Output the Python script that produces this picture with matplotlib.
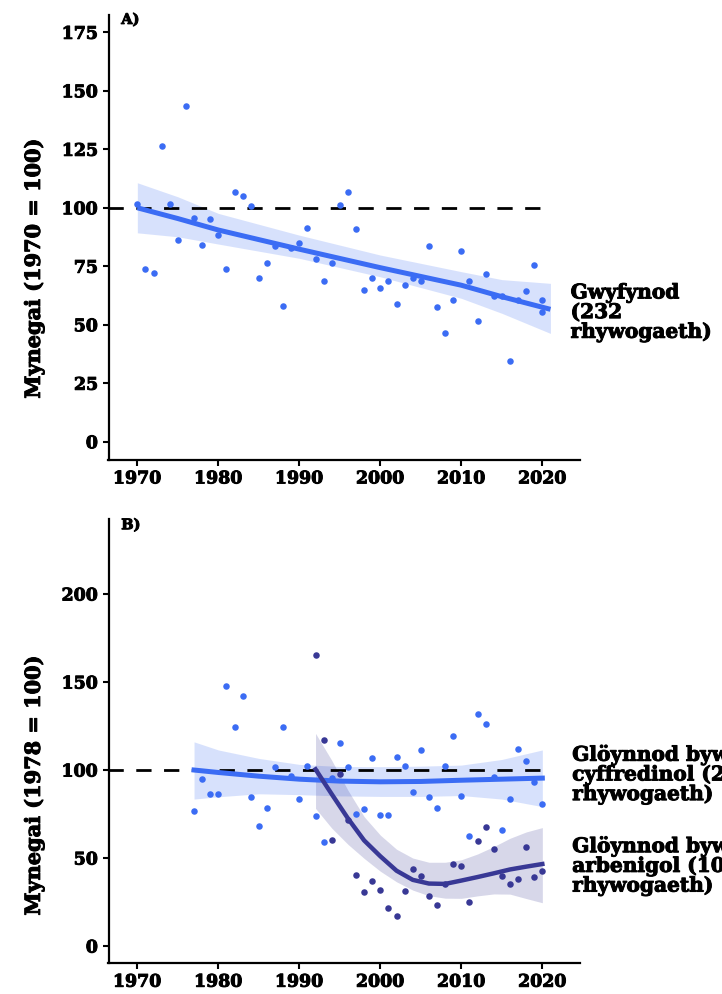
import matplotlib
matplotlib.use("Agg")
import matplotlib.pyplot as plt
import matplotlib.patheffects as pe
import numpy as np

# ---------------- data ----------------
# Panel A: moths (index 1970 = 100)
a_years = list(range(1970, 2021)) + [2020]
a_vals = [101.7, 73.7, 72.1, 126.4, 101.7, 86.3, 143.5, 95.5, 84.2, 95.2,
          88.5, 73.9, 106.6, 104.9, 100.7, 70.1, 76.4, 83.8, 57.9, 82.8,
          85.0, 91.2, 77.9, 68.7, 76.5, 101.0, 106.8, 90.8, 64.8, 70.1,
          65.8, 68.8, 58.7, 67.0, 69.8, 68.7, 83.8, 57.4, 46.5, 60.8,
          81.4, 68.7, 51.6, 71.7, 62.3, 62.3, 34.6, 60.6, 64.5, 75.4,
          60.4, 55.4]
a_fit_years = [1970, 1975, 1980, 1990, 2000, 2010, 2015, 2021]
a_fit = [100, 95.4, 90.5, 82.3, 74.4, 66.9, 62.0, 56.6]
a_fit_hi = [110.7, 104.7, 97.6, 88.3, 79.8, 72.7, 69.3, 67.7]
a_fit_lo = [89.3, 87.6, 84.5, 78.4, 70.5, 61.3, 54.9, 46.3]

# Panel B: butterflies (index 1978 = 100)
b_common_years = list(range(1977, 2021))
b_common_vals = [76.7, 94.7, 86.4, 86.4, 147.7, 124.4, 142.2, 84.8, 68.4, 78.2,
                 101.5, 124.4, 96.8, 83.5, 102.3, 73.9, 59.1, 95.3, 115.3, 101.9,
                 75.0, 78.0, 107.0, 74.6, 74.6, 107.6, 102.3, 87.5, 111.5, 84.8,
                 78.4, 102.3, 119.1, 85.0, 62.5, 132.0, 126.0, 96.0, 66.1, 83.5,
                 111.8, 104.9, 93.0, 80.9]
b_spec_years = list(range(1992, 2021))
b_spec_vals = [165.5, 117.2, 60.2, 97.5, 71.6, 40.5, 30.9, 36.7, 31.8, 21.4,
               16.9, 31.1, 43.6, 39.6, 28.2, 23.3, 35.2, 46.6, 45.5, 25.2,
               59.5, 67.4, 55.1, 39.8, 35.2, 38.3, 56.4, 39.0, 42.8]

b_common_fit_years = [1977, 1980, 1985, 1990, 1995, 2000, 2005, 2010, 2015, 2020]
b_common_fit = [100, 98.6, 96.5, 94.8, 93.7, 93.3, 93.5, 94.2, 94.8, 95.4]
b_common_hi = [116, 111.4, 106.6, 103.2, 102, 101.9, 102.2, 102.8, 106, 111.4]
b_common_lo = [83.5, 84.8, 86.5, 86, 85.3, 85, 85, 85.5, 83.5, 79.2]

b_spec_fit_years = [1992, 1994, 1996, 1998, 2000, 2002, 2004, 2006, 2008, 2010,
                    2012, 2014, 2016, 2018, 2020]
b_spec_fit = [100.4, 86.3, 72.5, 60.0, 51.0, 42.8, 37.6, 35.5, 35.3, 37.2,
              39.2, 41.3, 43.5, 45.1, 46.6]
b_spec_hi = [120.8, 105.5, 88.5, 73.5, 63.0, 55.0, 50.0, 47.6, 47.6, 49.0,
             52.3, 56.5, 61.2, 64.8, 67.3]
b_spec_lo = [78.2, 67.0, 57.8, 49.8, 42.5, 36.5, 31.8, 28.6, 27.2, 27.1,
             28.5, 29.6, 29.5, 27.0, 24.6]

x_ticks = [1970, 1980, 1990, 2000, 2010, 2020]
a_yticks = [0, 25, 50, 75, 100, 125, 150, 175]
b_yticks = [0, 50, 100, 150, 200]

label_a = "Gwyfynod\n(232\nrhywogaeth)"
label_common = "Glöynnod byw\ncyffredinol (26\nrhywogaeth)"
label_spec = "Glöynnod byw\narbenigol (10\nrhywogaeth)"

# ---------------- style ----------------
LIGHT = "#3b6cf4"
DARK = "#383895"
FONT = "DejaVu Serif"
plt.rcParams["font.family"] = [FONT, "DejaVu Sans"]
plt.rcParams["font.weight"] = "bold"
THICK = [pe.withStroke(linewidth=0.7, foreground="black")]

W, H = 722, 994
fig = plt.figure(figsize=(W / 100, H / 100), dpi=100)

def px_axes(left, right, top, bottom):
    return fig.add_axes([left / W, 1 - bottom / H, (right - left) / W, (bottom - top) / H])

axA = px_axes(108.5, 580, 15, 460)
axB = px_axes(108.5, 580, 519, 963.3)

def style(ax, ylim, yticks):
    ax.set_xlim(1966.44, 2024.65)
    ax.set_ylim(*ylim)
    for s in ["top", "right"]:
        ax.spines[s].set_visible(False)
    for s in ["left", "bottom"]:
        ax.spines[s].set_linewidth(1.6)
        ax.spines[s].set_color("black")
    ax.set_xticks(x_ticks)
    ax.set_yticks(yticks)
    ax.tick_params(axis="both", length=4.5, width=1.5, color="black",
                   labelsize=12.5, pad=3)
    for lab in ax.get_xticklabels() + ax.get_yticklabels():
        lab.set_fontweight("bold")
        lab.set_color("black")
        lab.set_path_effects(THICK)
    ax.set_facecolor("none")

LABEL_KW = dict(textcoords="offset points", va="center", ha="left",
                fontsize=14.5, fontweight="bold", linespacing=0.98,
                annotation_clip=False, path_effects=THICK)

# ---- Panel A ----
style(axA, (-7.8, 182.4), a_yticks)
axA.fill_between(a_fit_years, a_fit_lo, a_fit_hi, color=LIGHT, alpha=0.2, lw=0, zorder=1)
axA.plot([1966.44, 2021.2], [100, 100], color="black", lw=2.0, dashes=(5.5, 4.5), zorder=2)
axA.plot(a_fit_years, a_fit, color=LIGHT, lw=3.6, solid_capstyle="butt", zorder=3)
axA.scatter(a_years, a_vals, s=22, color=LIGHT, lw=0, zorder=4)
axA.set_ylabel("Mynegai (1970 = 100)", fontsize=15, fontweight="bold",
               path_effects=THICK)
axA.yaxis.set_label_coords(-0.137, 0.431)
axA.text(0.027, 0.989, "A)", transform=axA.transAxes, fontsize=10.5,
         fontweight="bold", va="center", ha="left", path_effects=THICK)
axA.annotate(label_a, xy=(a_fit_years[-1], a_fit[-1]), xytext=(14.5, -2), **LABEL_KW)

# ---- Panel B ----
style(axB, (-9.8, 242.6), b_yticks)
axB.fill_between(b_common_fit_years, b_common_lo, b_common_hi, color=LIGHT,
                 alpha=0.2, lw=0, zorder=1)
axB.fill_between(b_spec_fit_years, b_spec_lo, b_spec_hi, color=DARK,
                 alpha=0.2, lw=0, zorder=1)
axB.plot([1966.44, 2021.2], [100, 100], color="black", lw=2.0, dashes=(5.5, 4.5), zorder=2)
axB.plot(b_common_fit_years, b_common_fit, color=LIGHT, lw=3.6, zorder=3)
axB.plot(b_spec_fit_years, b_spec_fit, color=DARK, lw=3.2, zorder=3)
axB.scatter(b_common_years, b_common_vals, s=22, color=LIGHT, lw=0, zorder=4)
axB.scatter(b_spec_years, b_spec_vals, s=22, color=DARK, lw=0, zorder=4)
axB.set_ylabel("Mynegai (1978 = 100)", fontsize=15, fontweight="bold",
               path_effects=THICK)
axB.yaxis.set_label_coords(-0.137, 0.401)
axB.text(0.027, 0.986, "B)", transform=axB.transAxes, fontsize=10.5,
         fontweight="bold", va="center", ha="left", path_effects=THICK)
axB.annotate(label_common, xy=(2021.2, b_common_fit[-1]), xytext=(14.5, 3), **LABEL_KW)
axB.annotate(label_spec, xy=(2021.2, b_spec_fit[-1]), xytext=(14.5, -1), **LABEL_KW)

fig.savefig("out.png", dpi=100, facecolor="white")
